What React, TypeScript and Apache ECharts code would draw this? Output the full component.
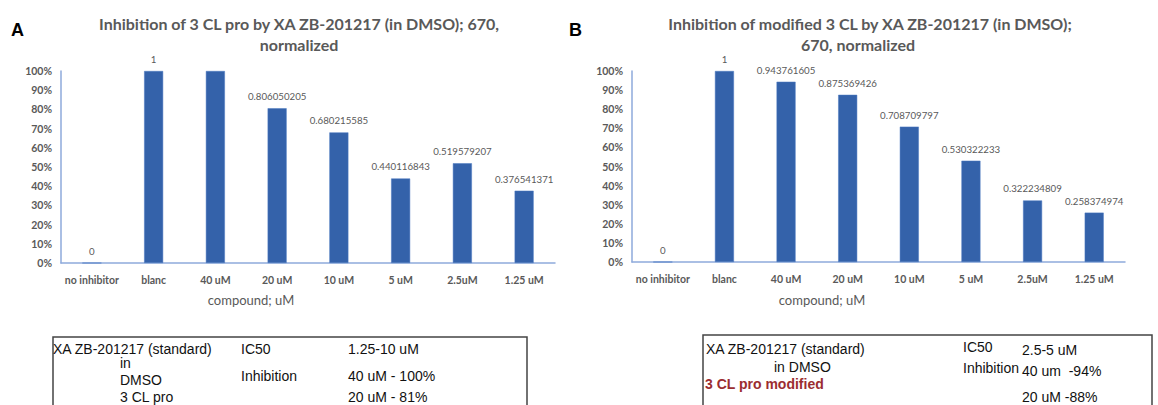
import React, { useEffect, useRef } from "react";
import * as echarts from "echarts";

const categories = ["no inhibitor", "blanc", "40 uM", "20 uM", "10 uM", "5 uM", "2.5uM", "1.25 uM"];
const valuesA = [0, 1, 1, 0.806050205, 0.680215585, 0.440116843, 0.519579207, 0.376541371];
const valuesB = [0, 1, 0.943761605, 0.875369426, 0.708709797, 0.530322233, 0.322234809, 0.258374974];
const hiddenLabelsA = [2];
const titleA = ["Inhibition of 3 CL pro by XA ZB-201217 (in DMSO); 670,", "normalized"];
const titleB = ["Inhibition of modified 3 CL by XA ZB-201217 (in DMSO);", "670, normalized"];
const xAxisName = "compound; uM";

const GRAY = "#595959";
const BAR = "#3462AA";
const AXIS = "#8EAADB";
const FONT = "Lato, 'Open Sans', sans-serif";
const TFONT = "'Liberation Sans', Arial, sans-serif";

function yAxis(gridIndex: number) {
  return {
    type: "value",
    gridIndex,
    min: 0,
    max: 1,
    interval: 0.1,
    axisLine: { show: true, lineStyle: { color: AXIS, width: 1.5 } },
    axisTick: { show: false },
    splitLine: { show: false },
    axisLabel: {
      margin: 9,
      color: GRAY,
      fontSize: 10.5,
      fontWeight: "bold",
      fontFamily: FONT,
      formatter: (v: number) => Math.round(v * 100) + "%",
    },
  };
}

function xAxis(gridIndex: number) {
  return {
    type: "category",
    gridIndex,
    data: categories,
    axisLine: { show: true, lineStyle: { color: AXIS, width: 1.5 } },
    axisTick: { show: false },
    axisLabel: {
      margin: 11,
      interval: 0,
      color: GRAY,
      fontSize: 10.5,
      fontWeight: "bold",
      fontFamily: FONT,
    },
  };
}

function series(idx: number, values: number[], hidden: number[]) {
  return {
    type: "bar",
    xAxisIndex: idx,
    yAxisIndex: idx,
    barWidth: 19,
    itemStyle: { color: BAR, borderColor: "#4A78C0", borderWidth: 0.5 },
    label: {
      show: true,
      position: "top",
      distance: 7,
      color: GRAY,
      fontSize: 9.7,
      fontFamily: FONT,
      formatter: (p: any) => String(p.value),
    },
    data: values.map((v, i) => (hidden.includes(i) ? { value: v, label: { show: false } } : v)),
  };
}

function text(x: number, y: number, t: string, font: string, fill: string, align = "left") {
  return {
    type: "text",
    x,
    y,
    silent: true,
    style: { text: t, font, fill, align, verticalAlign: "middle" },
  };
}

export default function App() {
  const ref = useRef<HTMLDivElement>(null);
  useEffect(() => {
    if (!ref.current) return;
    const chart = echarts.init(ref.current, null, { renderer: "svg" });
    const titleFont = `bold 16px ${FONT}`;
    const tblFont = `14px ${TFONT}`;
    const option: any = {
      animation: false,
      backgroundColor: "#ffffff",
      grid: [
        { left: 61, top: 71, width: 494, height: 192 },
        { left: 632, top: 71, width: 493, height: 191 },
      ],
      xAxis: [xAxis(0), xAxis(1)],
      yAxis: [yAxis(0), yAxis(1)],
      series: [series(0, valuesA, hiddenLabelsA), series(1, valuesB, [])],
      graphic: [
        text(11, 30, "A", `bold 18px ${TFONT}`, "#000"),
        text(569, 30, "B", `bold 18px ${TFONT}`, "#000"),
        text(299, 23, titleA[0], titleFont, GRAY, "center"),
        text(299, 44, titleA[1], titleFont, GRAY, "center"),
        text(870, 23, titleB[0], titleFont, GRAY, "center"),
        text(858, 44, titleB[1], titleFont, GRAY, "center"),
        text(251, 300, xAxisName, `13px ${FONT}`, GRAY, "center"),
        text(822, 300, xAxisName, `13px ${FONT}`, GRAY, "center"),
        {
          type: "rect",
          shape: { x: 53, y: 337, width: 474, height: 100 },
          style: { fill: "none", stroke: "#444", lineWidth: 1.5 },
        },
        text(53, 349, "XA ZB-201217 (standard)", tblFont, "#111"),
        text(120, 363, "in", tblFont, "#111"),
        text(120, 380, "DMSO", tblFont, "#111"),
        text(120, 397, "3 CL pro", tblFont, "#111"),
        text(241, 349, "IC50", tblFont, "#111"),
        text(241, 376, "Inhibition", tblFont, "#111"),
        text(348, 349, "1.25-10 uM", tblFont, "#111"),
        text(348, 376, "40 uM - 100%", tblFont, "#111"),
        text(348, 397, "20 uM - 81%", tblFont, "#111"),
        {
          type: "rect",
          shape: { x: 703, y: 335, width: 449, height: 100 },
          style: { fill: "none", stroke: "#444", lineWidth: 1.5 },
        },
        text(706, 349, "XA ZB-201217 (standard)", tblFont, "#111"),
        text(774, 367, "in DMSO", tblFont, "#111"),
        text(705, 384, "3 CL pro modified", `bold 14px ${TFONT}`, "#9B2D30"),
        text(963, 347, "IC50", tblFont, "#111"),
        text(963, 368, "Inhibition", tblFont, "#111"),
        text(1022, 350, "2.5-5 uM", tblFont, "#111"),
        text(1022, 371, "40 um  -94%", tblFont, "#111"),
        text(1022, 397, "20 uM -88%", tblFont, "#111"),
      ],
    };
    chart.setOption(option);
    return () => chart.dispose();
  }, []);
  return (
    <div
      ref={ref}
      style={{ position: "fixed", left: 0, top: 0, width: 1158, height: 405, background: "#fff" }}
    />
  );
}
